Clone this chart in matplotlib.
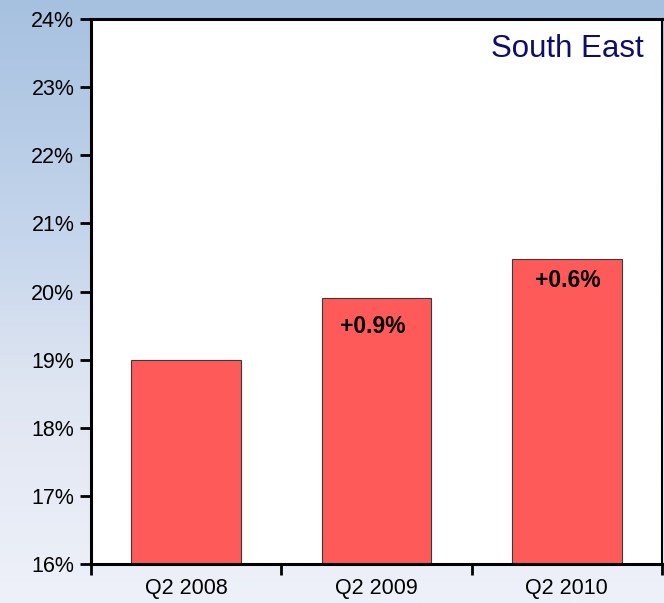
import numpy as np
import matplotlib
matplotlib.use("Agg")
import matplotlib.pyplot as plt
from matplotlib.colors import LinearSegmentedColormap

plt.rcParams['font.family'] = ['Liberation Sans', 'DejaVu Sans']

categories = ["Q2 2008", "Q2 2009", "Q2 2010"]
values = [19.0, 19.9, 20.48]
changes = ["", "+0.9%", "+0.6%"]
yticks = [16, 17, 18, 19, 20, 21, 22, 23, 24]
title = "South East"

W, H = 664, 603
fig = plt.figure(figsize=(W / 100, H / 100), dpi=100)

# gradient background
bg = fig.add_axes([0, 0, 1, 1])
cmap = LinearSegmentedColormap.from_list(
    "bg", [(0.0, "#eef1f9"), (0.35, "#e0e6f2"), (0.6, "#c6d6ec"), (1.0, "#a6c1e0")])
grad = np.linspace(0, 1, 256).reshape(-1, 1)
bg.imshow(grad, aspect="auto", cmap=cmap, origin="lower", extent=[0, 1, 0, 1])
bg.set_axis_off()

left, right, top, bottom = 91, 662, 19, 564
ax = fig.add_axes([left / W, 1 - bottom / H, (right - left) / W, (bottom - top) / H])
ax.set_facecolor("white")

x = np.arange(len(categories))
ax.bar(x, [v - 16 for v in values], bottom=16, width=0.575,
       color="#ff5a5a", edgecolor="#3a3a3a", linewidth=0.8, zorder=2)

offsets = [0, 28, 22]
for xi, v, c, off in zip(x, values, changes, offsets):
    if c:
        ax.annotate(c, (xi, v), xytext=(-3 if xi == 1 else 1, -off * 0.72),
                    textcoords="offset points", ha="center", va="center",
                    fontsize=16.5, fontweight="bold", color="black", zorder=3)

ax.set_xlim(-0.5, 2.5)
ax.set_ylim(16, 24)
ax.set_yticks(yticks)
ax.set_yticklabels([f"{t}%" for t in yticks])
ax.set_xticks([-0.5, 0.5, 1.5, 2.5])
ax.set_xticklabels([])
ax.set_xticks(x, minor=True)
ax.set_xticklabels(categories, minor=True)
ax.tick_params(axis="x", which="minor", length=0, pad=10, labelsize=15.5)
ax.tick_params(axis="x", which="major", direction="out", length=8, width=2)
ax.tick_params(axis="y", direction="out", length=8, width=2, pad=4, labelsize=15.5)

for s in ["left", "bottom", "top"]:
    ax.spines[s].set_linewidth(2.2)
ax.spines["right"].set_linewidth(1.5)

ax.text(0.968, 0.945, title, transform=ax.transAxes, ha="right", va="center",
        fontsize=22.5, color="#0d0d6b")

fig.savefig("out.png", dpi=100)
